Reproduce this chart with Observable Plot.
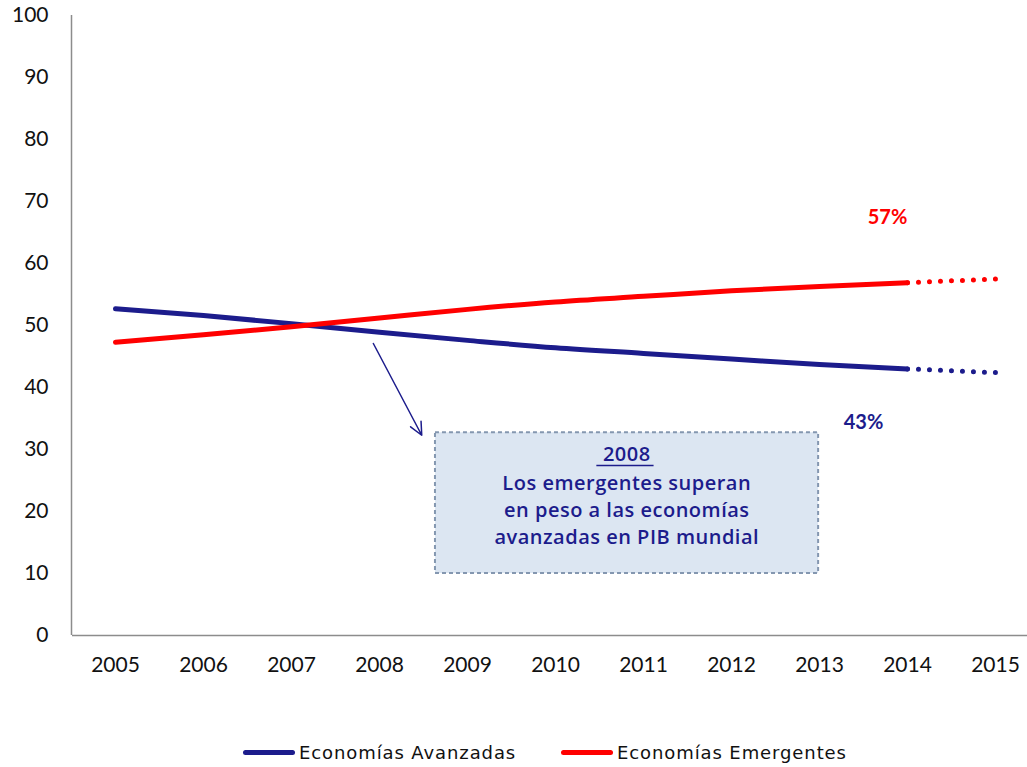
<!DOCTYPE html>
<html>
<head>
<meta charset="utf-8">
<script src="https://cdn.jsdelivr.net/npm/d3@7"></script>
<script src="https://cdn.jsdelivr.net/npm/@observablehq/plot@0.6"></script>
<style>
  html, body { margin: 0; padding: 0; background: #fff; }
  #chart { width: 1027px; position: relative; }
  #legend { position: relative; width: 1027px; height: 42px; font-family: "DejaVu Sans", sans-serif; font-size: 18px; letter-spacing: 0.9px; color: #111; }
  .item { position: absolute; top: 6px; display: flex; align-items: center; height: 42px; white-space: nowrap; }
  .swatch { display: inline-block; width: 52px; height: 5px; border-radius: 3px; margin-right: 4px; }
</style>
</head>
<body>
<div id="chart"></div>
<div id="legend"></div>
<script>
// ---- data ----
const years = [2005, 2006, 2007, 2008, 2009, 2010, 2011, 2012, 2013, 2014, 2015];
const avanzadas = [52.7, 51.6, 50.3, 48.9, 47.6, 46.4, 45.5, 44.6, 43.7, 43.0, 42.4];
const emergentes = [47.3, 48.5, 49.8, 51.2, 52.6, 53.8, 54.7, 55.6, 56.3, 56.9, 57.5];
const seriesNames = ["Economías Avanzadas", "Economías Emergentes"];
const seriesColors = ["#1c1c8c", "#ff0000"];
const lastActualYear = 2014;
const yTicks = [0, 10, 20, 30, 40, 50, 60, 70, 80, 90, 100];
const noteYear = "2008";
const noteText = "Los emergentes superan\nen peso a las economías\navanzadas en PIB mundial";

// ---- table ----
const rows = [];
years.forEach((yr, i) => {
  rows.push({year: yr, value: avanzadas[i], series: seriesNames[0]});
  rows.push({year: yr, value: emergentes[i], series: seriesNames[1]});
});
const actual = rows.filter(d => d.year <= lastActualYear);
const projected = rows.filter(d => d.year >= lastActualYear);
const lastAv = rows.filter(d => d.year === lastActualYear && d.series === seriesNames[0]);
const lastEm = rows.filter(d => d.year === lastActualYear && d.series === seriesNames[1]);

const navy = seriesColors[0];
const axisGray = "#8c8c8c";
const noteFont = "'Open Sans', sans-serif";

const plot = Plot.plot({
  width: 1027,
  height: 725,
  marginLeft: 72,
  marginRight: 0,
  marginTop: 15,
  marginBottom: 90,
  style: {fontFamily: "Lato, 'Open Sans', sans-serif", fontSize: "21px", color: "#111", background: "#fff"},
  x: {domain: [2005, 2015], range: [115, 995], label: null},
  y: {domain: [0, 100], label: null},
  color: {domain: seriesNames, range: seriesColors},
  marks: [
    Plot.axisY({ticks: yTicks, tickSize: 0, tickPadding: 24, label: null, fontSize: 21}),
    Plot.axisX({ticks: years, tickSize: 0, tickPadding: 22, tickFormat: d => String(d), label: null, fontSize: 21}),
    Plot.ruleY([0], {stroke: axisGray, strokeWidth: 1.5}),
    Plot.ruleX([2004.5], {y1: 0, y2: 100, stroke: axisGray, strokeWidth: 1.5}),
    // annotation box
    Plot.rect([{x1: 2008.636, x2: 2012.99, y1: 10.0, y2: 32.7}], {
      x1: "x1", x2: "x2", y1: "y1", y2: "y2",
      fill: "#dce6f2", stroke: "#8497b0", strokeWidth: 2, strokeDasharray: "4,3"
    }),
    Plot.text([noteYear], {x: 2010.81, y: 29.2, text: d => d, fill: navy, fontSize: 20, fontWeight: 600, fontFamily: noteFont}),
    Plot.ruleY([27.4], {x1: 2010.47, x2: 2011.12, stroke: navy, strokeWidth: 1.5}),
    Plot.text([noteText], {x: 2010.81, y: 20.5, text: d => d, fill: navy, fontSize: 20, fontWeight: 600, lineHeight: 1.33, fontFamily: noteFont}),
    Plot.arrow([{x1: 2007.93, y1: 47.1, x2: 2008.48, y2: 32.3}], {
      x1: "x1", y1: "y1", x2: "x2", y2: "y2", stroke: navy, strokeWidth: 1.5, headLength: 14, headAngle: 50
    }),
    // lines
    Plot.line(actual, {x: "year", y: "value", z: "series", stroke: "series", strokeWidth: 5, strokeLinecap: "round", strokeLinejoin: "round", curve: "monotone-x"}),
    Plot.line(projected, {x: "year", y: "value", z: "series", stroke: "series", strokeWidth: 5, strokeLinecap: "round", strokeDasharray: "0,11"}),
    // end labels
    Plot.text(lastEm, {x: "year", y: "value", text: d => Math.round(d.value) + "%", fill: "series", dx: -20, dy: -65, fontWeight: "bold", fontSize: 20}),
    Plot.text(lastAv, {x: "year", y: "value", text: d => Math.round(d.value) + "%", fill: "series", dx: -44, dy: 54, fontWeight: "bold", fontSize: 20}),
  ]
});
document.getElementById("chart").appendChild(plot);
plot.querySelectorAll("text").forEach(t => {
  const g = t.closest("g");
  if (g && g.getAttribute("font-family") && g.getAttribute("font-family").includes("Open Sans")) g.style.letterSpacing = "0.5px";
});

// ---- legend ----
const legendLeft = [243, 561];
const legend = document.getElementById("legend");
seriesNames.forEach((name, i) => {
  const item = document.createElement("div");
  item.className = "item";
  item.style.left = legendLeft[i] + "px";
  const sw = document.createElement("span");
  sw.className = "swatch";
  sw.style.background = seriesColors[i];
  const lab = document.createElement("span");
  lab.textContent = name;
  item.appendChild(sw);
  item.appendChild(lab);
  legend.appendChild(item);
});
</script>
</body>
</html>
